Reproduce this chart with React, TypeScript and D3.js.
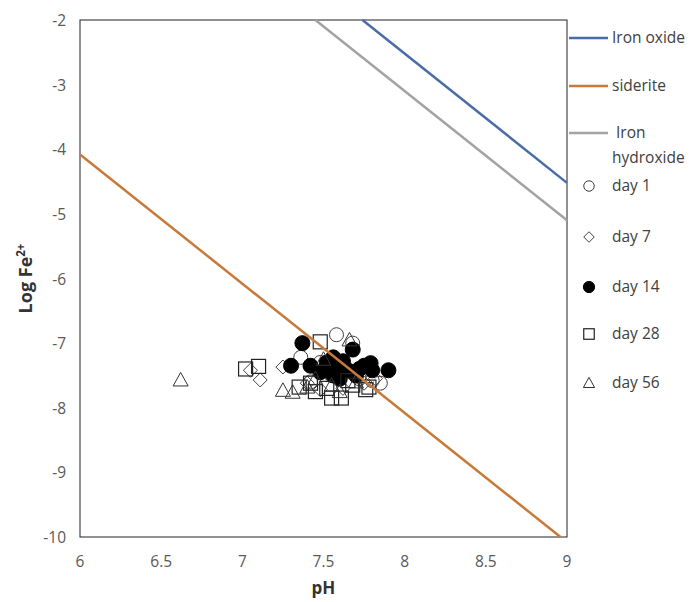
import React from 'react'
import * as d3 from 'd3'

const xTicks = [6, 6.5, 7, 7.5, 8, 8.5, 9]
const yTicks = [-2, -3, -4, -5, -6, -7, -8, -9, -10]

// stability lines (pH, log Fe2+)
const ironOxide = [[7.74, -2], [9, -4.52]]
const ironHydroxide = [[7.45, -2], [9, -5.1]]
const siderite = [[6, -4.08], [8.96, -10]]

const day1 = [[7.58, -6.87], [7.36, -7.22], [7.85, -7.62], [7.72, -7.55], [7.62, -7.42], [7.48, -7.3], [7.68, -7.0], [7.8, -7.58], [7.55, -7.5], [7.42, -7.6]]
const day7 = [[7.05, -7.42], [7.11, -7.57], [7.25, -7.37], [7.4, -7.62], [7.55, -7.45], [7.62, -7.7], [7.75, -7.62], [7.7, -7.48], [7.48, -7.72], [7.82, -7.55]]
const day14 = [[7.37, -7.0], [7.3, -7.35], [7.42, -7.35], [7.52, -7.3], [7.56, -7.22], [7.58, -7.38], [7.62, -7.28], [7.65, -7.42], [7.68, -7.1], [7.7, -7.5], [7.75, -7.35], [7.79, -7.31], [7.8, -7.42], [7.9, -7.42], [7.48, -7.45], [7.56, -7.5], [7.72, -7.4], [7.6, -7.55], [7.53, -7.4], [7.62, -7.35]]
const day28 = [[7.02, -7.4], [7.1, -7.36], [7.35, -7.68], [7.42, -7.62], [7.48, -6.98], [7.55, -7.85], [7.61, -7.85], [7.52, -7.7], [7.68, -7.65], [7.76, -7.72], [7.78, -7.68], [7.45, -7.75], [7.65, -7.58]]
const day56 = [[6.62, -7.57], [7.25, -7.73], [7.31, -7.76], [7.66, -6.95], [7.45, -7.55], [7.55, -7.65], [7.7, -7.6], [7.4, -7.68], [7.6, -7.75], [7.5, -7.25]]

const lineSeries = [
  { name: 'Iron oxide', data: ironOxide, color: '#4a6ca8' },
  { name: 'siderite', data: siderite, color: '#c87a3a' },
  { name: 'Iron hydroxide', data: ironHydroxide, color: '#a3a3a3' },
]

const pointSeries = [
  { name: 'day 1', data: day1, shape: 'circle' },
  { name: 'day 7', data: day7, shape: 'diamond' },
  { name: 'day 14', data: day14, shape: 'filled' },
  { name: 'day 28', data: day28, shape: 'square' },
  { name: 'day 56', data: day56, shape: 'triangle' },
]

const font = '"Open Sans", "Liberation Sans", Arial, sans-serif'

function Marker({ shape, x, y, s = 1 }: { shape: string; x: number; y: number; s?: number }) {
  if (shape === 'circle')
    return <circle cx={x} cy={y} r={7 * s} fill="#fff" fillOpacity={0.6} stroke="#404040" strokeWidth={1} />
  if (shape === 'filled')
    return <circle cx={x} cy={y} r={7.5 * s} fill="#000" stroke="#000" />
  if (shape === 'diamond') {
    const r = 7 * s
    return <path d={`M${x},${y - r}L${x + r},${y}L${x},${y + r}L${x - r},${y}Z`} fill="none" stroke="#404040" strokeWidth={1} />
  }
  if (shape === 'square') {
    const r = 7 * s
    return <rect x={x - r} y={y - r} width={2 * r} height={2 * r} fill="none" stroke="#222" strokeWidth={1.2} />
  }
  const r = 7.5 * s
  return <path d={`M${x},${y - r}L${x + r},${y + r * 0.8}L${x - r},${y + r * 0.8}Z`} fill="none" stroke="#333" strokeWidth={1} />
}

export default function App() {
  const width = 693, height = 602
  const left = 80, right = 567, top = 20, bottom = 537
  const x = d3.scaleLinear().domain([6, 9]).range([left, right])
  const y = d3.scaleLinear().domain([-2, -10]).range([top, bottom])
  const line = d3.line<number[]>().x(d => x(d[0])).y(d => y(d[1]))

  const legendLineY = [38, 86, 133]
  const legendPtY = [186, 237, 287, 334, 383]

  return (
    <svg width={width} height={height} style={{ position: 'absolute', left: 0, top: 0, background: '#fff' }} fontFamily={font}>
      <rect x={left} y={top} width={right - left} height={bottom - top} fill="#fff" stroke="#222" strokeWidth={1} />

      {yTicks.map(t => (
        <text key={t} x={left - 14} y={y(t) + 6} textAnchor="end" fontSize={15.5} fill="#595959">{t}</text>
      ))}
      {xTicks.map(t => (
        <text key={t} x={x(t)} y={bottom + 30} textAnchor="middle" fontSize={15.5} fill="#595959">{t}</text>
      ))}

      <text x={x(7.5)} y={594} textAnchor="middle" fontSize={17} fontWeight="bold" fill="#333">pH</text>
      <text transform={`translate(32,${y(-6)}) rotate(-90)`} textAnchor="middle" fontSize={18} fontWeight="bold" fill="#333">
        Log Fe<tspan dy={-7} fontSize={11.5}>2+</tspan>
      </text>

      {pointSeries.map(s => (
        <g key={s.name}>
          {s.data.map((d, i) => <Marker key={i} shape={s.shape} x={x(d[0])} y={y(d[1])} />)}
        </g>
      ))}

      {lineSeries.map(s => (
        <path key={s.name} d={line(s.data) || ''} fill="none" stroke={s.color} strokeWidth={2.5} />
      ))}

      {lineSeries.map((s, i) => (
        <g key={s.name}>
          <line x1={569} x2={608} y1={legendLineY[i]} y2={legendLineY[i]} stroke={s.color} strokeWidth={2.5} />
          {s.name === 'Iron hydroxide' ? (
            <text x={612} y={legendLineY[i] + 5} fontSize={15.5} fill="#404040">
              <tspan x={616}>Iron</tspan>
              <tspan x={612} dy={25}>hydroxide</tspan>
            </text>
          ) : (
            <text x={612} y={legendLineY[i] + 5} fontSize={15.5} fill="#404040">{s.name}</text>
          )}
        </g>
      ))}

      {pointSeries.map((s, i) => (
        <g key={s.name}>
          <Marker shape={s.shape} x={589} y={legendPtY[i]} s={0.75} />
          <text x={612} y={legendPtY[i] + 5} fontSize={15.5} fill="#404040">{s.name}</text>
        </g>
      ))}
    </svg>
  )
}
